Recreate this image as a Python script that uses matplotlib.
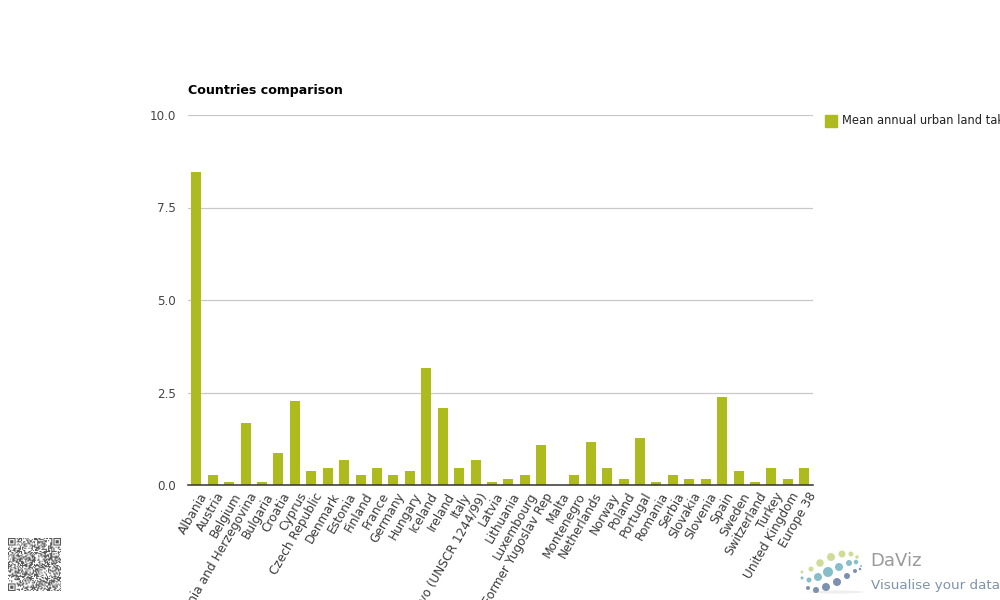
import hashlib
import numpy as np
import matplotlib
matplotlib.use("Agg")
import matplotlib.pyplot as plt
from matplotlib.patches import Rectangle, Ellipse
from matplotlib.transforms import ScaledTranslation

countries = ["Albania", "Austria", "Belgium", "Bosnia and Herzegovina", "Bulgaria", "Croatia", "Cyprus",
             "Czech Republic", "Denmark", "Estonia", "Finland", "France", "Germany", "Hungary", "Iceland",
             "Ireland", "Italy", "Kosovo (UNSCR 1244/99)", "Latvia", "Lithuania", "Luxembourg",
             "Former Yugoslav Rep", "Malta", "Montenegro", "Netherlands", "Norway", "Poland", "Portugal",
             "Romania", "Serbia", "Slovakia", "Slovenia", "Spain", "Sweden", "Switzerland", "Turkey",
             "United Kingdom", "Europe 38"]
values = [8.46, 0.27, 0.08, 1.68, 0.08, 0.87, 2.27, 0.38, 0.46, 0.68, 0.27, 0.46, 0.27, 0.38, 3.16, 2.08,
          0.46, 0.68, 0.08, 0.16, 0.27, 1.08, 0.0, 0.27, 1.16, 0.46, 0.16, 1.27, 0.08, 0.27, 0.16, 0.16,
          2.38, 0.38, 0.08, 0.46, 0.16, 0.46]
y_ticks = [0.0, 2.5, 5.0, 7.5, 10.0]
series_name = "Mean annual urban land take"
title = "Countries comparison"

BAR = "#adbb1e"
W, H = 1000, 600
fig = plt.figure(figsize=(W / 100, H / 100), dpi=100, facecolor="white")
ax = fig.add_axes([188 / W, 1 - 485 / H, 624.5 / W, 370 / H])

x = np.arange(len(countries))
ax.bar(x, values, width=0.608, color=BAR, zorder=3)
ax.set_xlim(-0.5, len(countries) - 0.5)
ax.set_ylim(0, 10)
ax.set_yticks(y_ticks, [f"{v:.1f}" for v in y_ticks], fontsize=8.6, color="#444444")
ax.set_xticks(x, countries, rotation=60, ha="right", va="top", rotation_mode="anchor",
              fontsize=8.7, color="#3a3a3a")
ax.tick_params(axis="both", length=0)
ax.tick_params(axis="x", pad=3)
ax.tick_params(axis="y", pad=8.6)
shift = ScaledTranslation(3 / 100, -1 / 100, fig.dpi_scale_trans)
for lab in ax.get_xticklabels():
    lab.set_transform(lab.get_transform() + shift)
ax.grid(axis="y", color="#c8c8c8", linewidth=0.9, zorder=0)
ax.set_axisbelow(True)
for s in ["top", "right", "left"]:
    ax.spines[s].set_visible(False)
ax.spines["bottom"].set_color("#333333")
ax.spines["bottom"].set_linewidth(1.1)
ax.spines["bottom"].set_zorder(5)

fig.text(188 / W, 1 - 90.5 / H, title, fontsize=9.1, fontweight="bold", color="black", va="center", ha="left")

# Legend
fig.add_artist(Rectangle((825 / W, 1 - 127 / H), 12 / W, 12 / H, transform=fig.transFigure, color=BAR))
fig.text(842 / W, 1 - 121 / H, series_name, fontsize=8.3, color="#222222", va="center", ha="left")

# QR-like badge (decoration)
qax = fig.add_axes([8 / W, 1 - 591 / H, 53 / W, 53 / H])
n = 49
bits = []
k = 0
while len(bits) < n * n:
    for b in hashlib.sha256(f"daviz{k}".encode()).digest():
        bits.extend((b >> s) & 1 for s in range(8))
    k += 1
qr = np.array(bits[:n * n], dtype=float).reshape(n, n)
for (r, c) in [(0, 0), (0, n - 7), (n - 7, 0)]:
    qr[max(r - 1, 0):r + 8, max(c - 1, 0):c + 8] = 0
    qr[r:r + 7, c:c + 7] = 1
    qr[r + 1:r + 6, c + 1:c + 6] = 0
    qr[r + 2:r + 5, c + 2:c + 5] = 1
qax.imshow(1 - qr * 0.65, cmap="gray", vmin=0, vmax=1, interpolation="bilinear")
qax.axis("off")

# DaViz logo (decoration)
lax = fig.add_axes([0, 0, 1, 1], facecolor="none")
lax.set_xlim(0, W)
lax.set_ylim(H, 0)
lax.axis("off")
lax.add_patch(Ellipse((836, 592), 55, 3, color="#eeeeee", lw=0))
green = "#cfdc98"
teal = "#86bfca"
blue = "#7c90b0"
logo_dots = [(802, 572, 3, green), (811, 569, 5, green), (820, 563, 7.5, green), (831, 557, 8, green),
             (842, 554, 7, green), (851, 554, 5, green), (857, 557, 3.5, green),
             (802, 578, 3, teal), (809, 580, 5, teal), (818, 577, 8, teal), (828, 572, 10, teal),
             (839, 567, 8, teal), (849, 563, 6, teal), (856, 562, 4.5, teal), (861, 566, 2, teal),
             (808, 588, 4, blue), (816, 590, 6, blue), (826, 587, 8, blue), (837, 582, 8, blue),
             (847, 576, 6, blue), (855, 571, 4, blue), (860, 569, 2.5, blue)]
for px, py, d, c in logo_dots:
    lax.add_patch(Ellipse((px, py), d, d, color=c, lw=0))
lax.text(870, 561, "DaViz", fontsize=13, color="#9a9a9a", va="center", ha="left")
lax.text(871, 585.5, "Visualise your data", fontsize=9.7, color="#7f93ad", va="center", ha="left")

fig.savefig("out.png", dpi=100)
